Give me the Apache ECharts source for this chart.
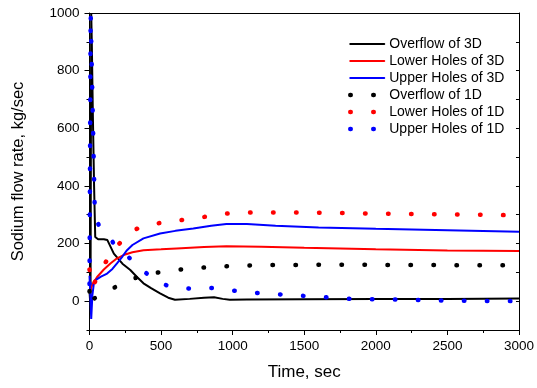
<!DOCTYPE html>
<html>
<head>
<meta charset="utf-8">
<script src="https://cdn.jsdelivr.net/npm/echarts@6/dist/echarts.min.js"></script>
<style>
html,body{margin:0;padding:0;background:#fff;}
#chart{width:537px;height:388px;}
</style>
</head>
<body>
<div id="chart"></div>
<script>
// ---- data ----
var overflow3D_t = [0, 7, 12, 16, 24, 32, 40, 60, 100, 125, 170, 230, 285, 330, 377, 430, 493, 550, 597, 700, 800, 870, 930, 980, 1100, 1500, 2000, 2500, 3000];
var overflow3D_v = [35, -20, 1000, 900, 630, 400, 223, 215, 215, 212, 165, 130, 108, 85, 62, 45, 27, 12, 5, 8, 12, 14, 8, 5, 6, 7, 8, 8, 9];

var lower3D_t = [0, 10, 25, 53, 100, 146, 190, 238, 300, 377, 500, 609, 800, 956, 1200, 1500, 2000, 2500, 3000];
var lower3D_v = [30, 45, 62, 84, 110, 131, 148, 160, 170, 177, 180, 183, 188, 191, 189, 185, 180, 176, 174];

var upper3D_t = [0, 6, 12, 20, 30, 42, 80, 123, 160, 192, 230, 262, 300, 377, 493, 600, 725, 850, 956, 1100, 1300, 1600, 2000, 2500, 3000];
var upper3D_v = [88, 20, -62, 20, 60, 73, 85, 96, 112, 131, 155, 177, 195, 218, 235, 244, 252, 262, 268, 268, 262, 256, 251, 246, 241];

var overflow1D_t = [0, 6, 20, 68, 160, 278, 377, 505, 637, 771, 887, 1014, 1200, 1500, 2000, 2500, 3000];
var overflow1D_v = [35, -15, 5, 21, 44, 73, 90, 102, 110, 116, 119, 123, 125, 126, 126, 125, 125];

var lower1D_t = [0, 15, 50, 97, 167, 262, 303, 419, 558, 690, 810, 926, 1002, 1153, 1500, 2000, 2500, 3000];
var lower1D_v = [110, 50, 76, 123, 177, 229, 246, 267, 275, 285, 293, 303, 305, 308, 308, 304, 301, 298];

var upper1D_t = [0, 8, 38, 72, 130, 169, 227, 331, 435, 558, 708, 847, 1090, 1218, 1343, 1476, 1664, 1819, 2100, 2387, 2699, 3000];
var upper1D_v = [60, 1000, 288, 258, 229, 200, 175, 125, 81, 50, 43, 46, 32, 26, 23, 19, 13, 8, 6, 3, 1, 0];

var seriesNames = ['Overflow of 3D', 'Lower Holes of 3D', 'Upper Holes of 3D', 'Overflow of 1D', 'Lower Holes of 1D', 'Upper Holes of 1D'];
var seriesColors = ['#000000', '#ff0000', '#0000ff', '#000000', '#ff0000', '#0000ff'];

var xTicks = [0, 500, 1000, 1500, 2000, 2500, 3000];
var yMajorTicks = [0, 200, 400, 600, 800, 1000];
var yMinorTicks = [-100, 100, 300, 500, 700, 900];

function zip(t, v) {
  var out = [];
  for (var i = 0; i < t.length; i++) out.push([t[i], v[i]]);
  return out;
}
var allData = [
  zip(overflow3D_t, overflow3D_v),
  zip(lower3D_t, lower3D_v),
  zip(upper3D_t, upper3D_v),
  zip(overflow1D_t, overflow1D_v),
  zip(lower1D_t, lower1D_v),
  zip(upper1D_t, upper1D_v)
];

var FONT = 'Liberation Sans, Arial, sans-serif';
var plain = function (v) { return String(v); };
var series = allData.map(function (d, i) {
  var dotted = i >= 3;
  return {
    name: seriesNames[i],
    type: 'line',
    data: d,
    symbol: 'none',
    showSymbol: false,
    smooth: false,
    animation: false,
    color: seriesColors[i],
    lineStyle: dotted
      ? { color: seriesColors[i], width: 4.5, type: [0.5, 22.5], cap: 'round' }
      : { color: seriesColors[i], width: 2 },
    z: dotted ? 3 : 2
  };
});

var chart = echarts.init(document.getElementById('chart'), null, { renderer: 'canvas' });
chart.setOption({
  animation: false,
  backgroundColor: '#ffffff',
  textStyle: { fontFamily: FONT },
  grid: { left: 89.5, right: 16, top: 13, bottom: 58, containLabel: false },
  legend: {
    orient: 'vertical',
    left: 348,
    top: 37,
    padding: 0,
    itemWidth: 34,
    itemHeight: 14,
    itemGap: 3,
    data: seriesNames,
    itemStyle: { opacity: 0 },
    lineStyle: { width: 'inherit', type: 'inherit', cap: 'round' },
    textStyle: { fontSize: 14, color: '#000', fontFamily: FONT, lineHeight: 14 }
  },
  xAxis: [{
    type: 'value',
    position: 'bottom',
    min: 0, max: 3000, interval: 500,
    name: 'Time, sec',
    nameLocation: 'middle',
    nameGap: 34,
    nameTextStyle: { fontSize: 17, color: '#000', fontFamily: FONT },
    axisLine: { show: true, onZero: false, lineStyle: { color: '#000', width: 1 } },
    axisTick: { show: true, inside: false, length: 5, lineStyle: { color: '#000' } },
    minorTick: { show: true, splitNumber: 2, length: 3, lineStyle: { color: '#000' } },
    axisLabel: { fontSize: 13.5, color: '#000', margin: 9, fontFamily: FONT, customValues: xTicks, formatter: plain },
    splitLine: { show: false }
  }, {
    type: 'value',
    position: 'top',
    min: 0, max: 3000, interval: 500,
    axisLine: { show: true, onZero: false, lineStyle: { color: '#000', width: 1 } },
    axisTick: { show: false },
    axisLabel: { show: false },
    splitLine: { show: false }
  }],
  yAxis: [{
    type: 'value',
    position: 'left',
    min: -100, max: 1000, interval: 100,
    name: 'Sodium flow rate, kg/sec',
    nameLocation: 'middle',
    nameRotate: 90,
    nameGap: 63,
    nameTextStyle: { fontSize: 16.5, color: '#000', fontFamily: FONT },
    axisLine: { show: true, onZero: false, lineStyle: { color: '#000', width: 1 } },
    axisTick: { show: true, inside: false, length: 5, customValues: yMajorTicks, lineStyle: { color: '#000' } },
    axisLabel: { fontSize: 13.5, color: '#000', margin: 10, fontFamily: FONT, customValues: yMajorTicks, formatter: plain },
    splitLine: { show: false }
  }, {
    type: 'value',
    position: 'left',
    min: -100, max: 1000, interval: 100,
    axisLine: { show: false, onZero: false },
    axisTick: { show: true, inside: false, length: 3, customValues: yMinorTicks, lineStyle: { color: '#000' } },
    axisLabel: { show: false },
    splitLine: { show: false }
  }, {
    type: 'value',
    position: 'right',
    min: -100, max: 1000, interval: 100,
    axisLine: { show: true, onZero: false, lineStyle: { color: '#000', width: 1 } },
    axisTick: { show: true, inside: true, length: 3, lineStyle: { color: '#000' } },
    axisLabel: { show: false },
    splitLine: { show: false }
  }],
  series: series
});
</script>
</body>
</html>
